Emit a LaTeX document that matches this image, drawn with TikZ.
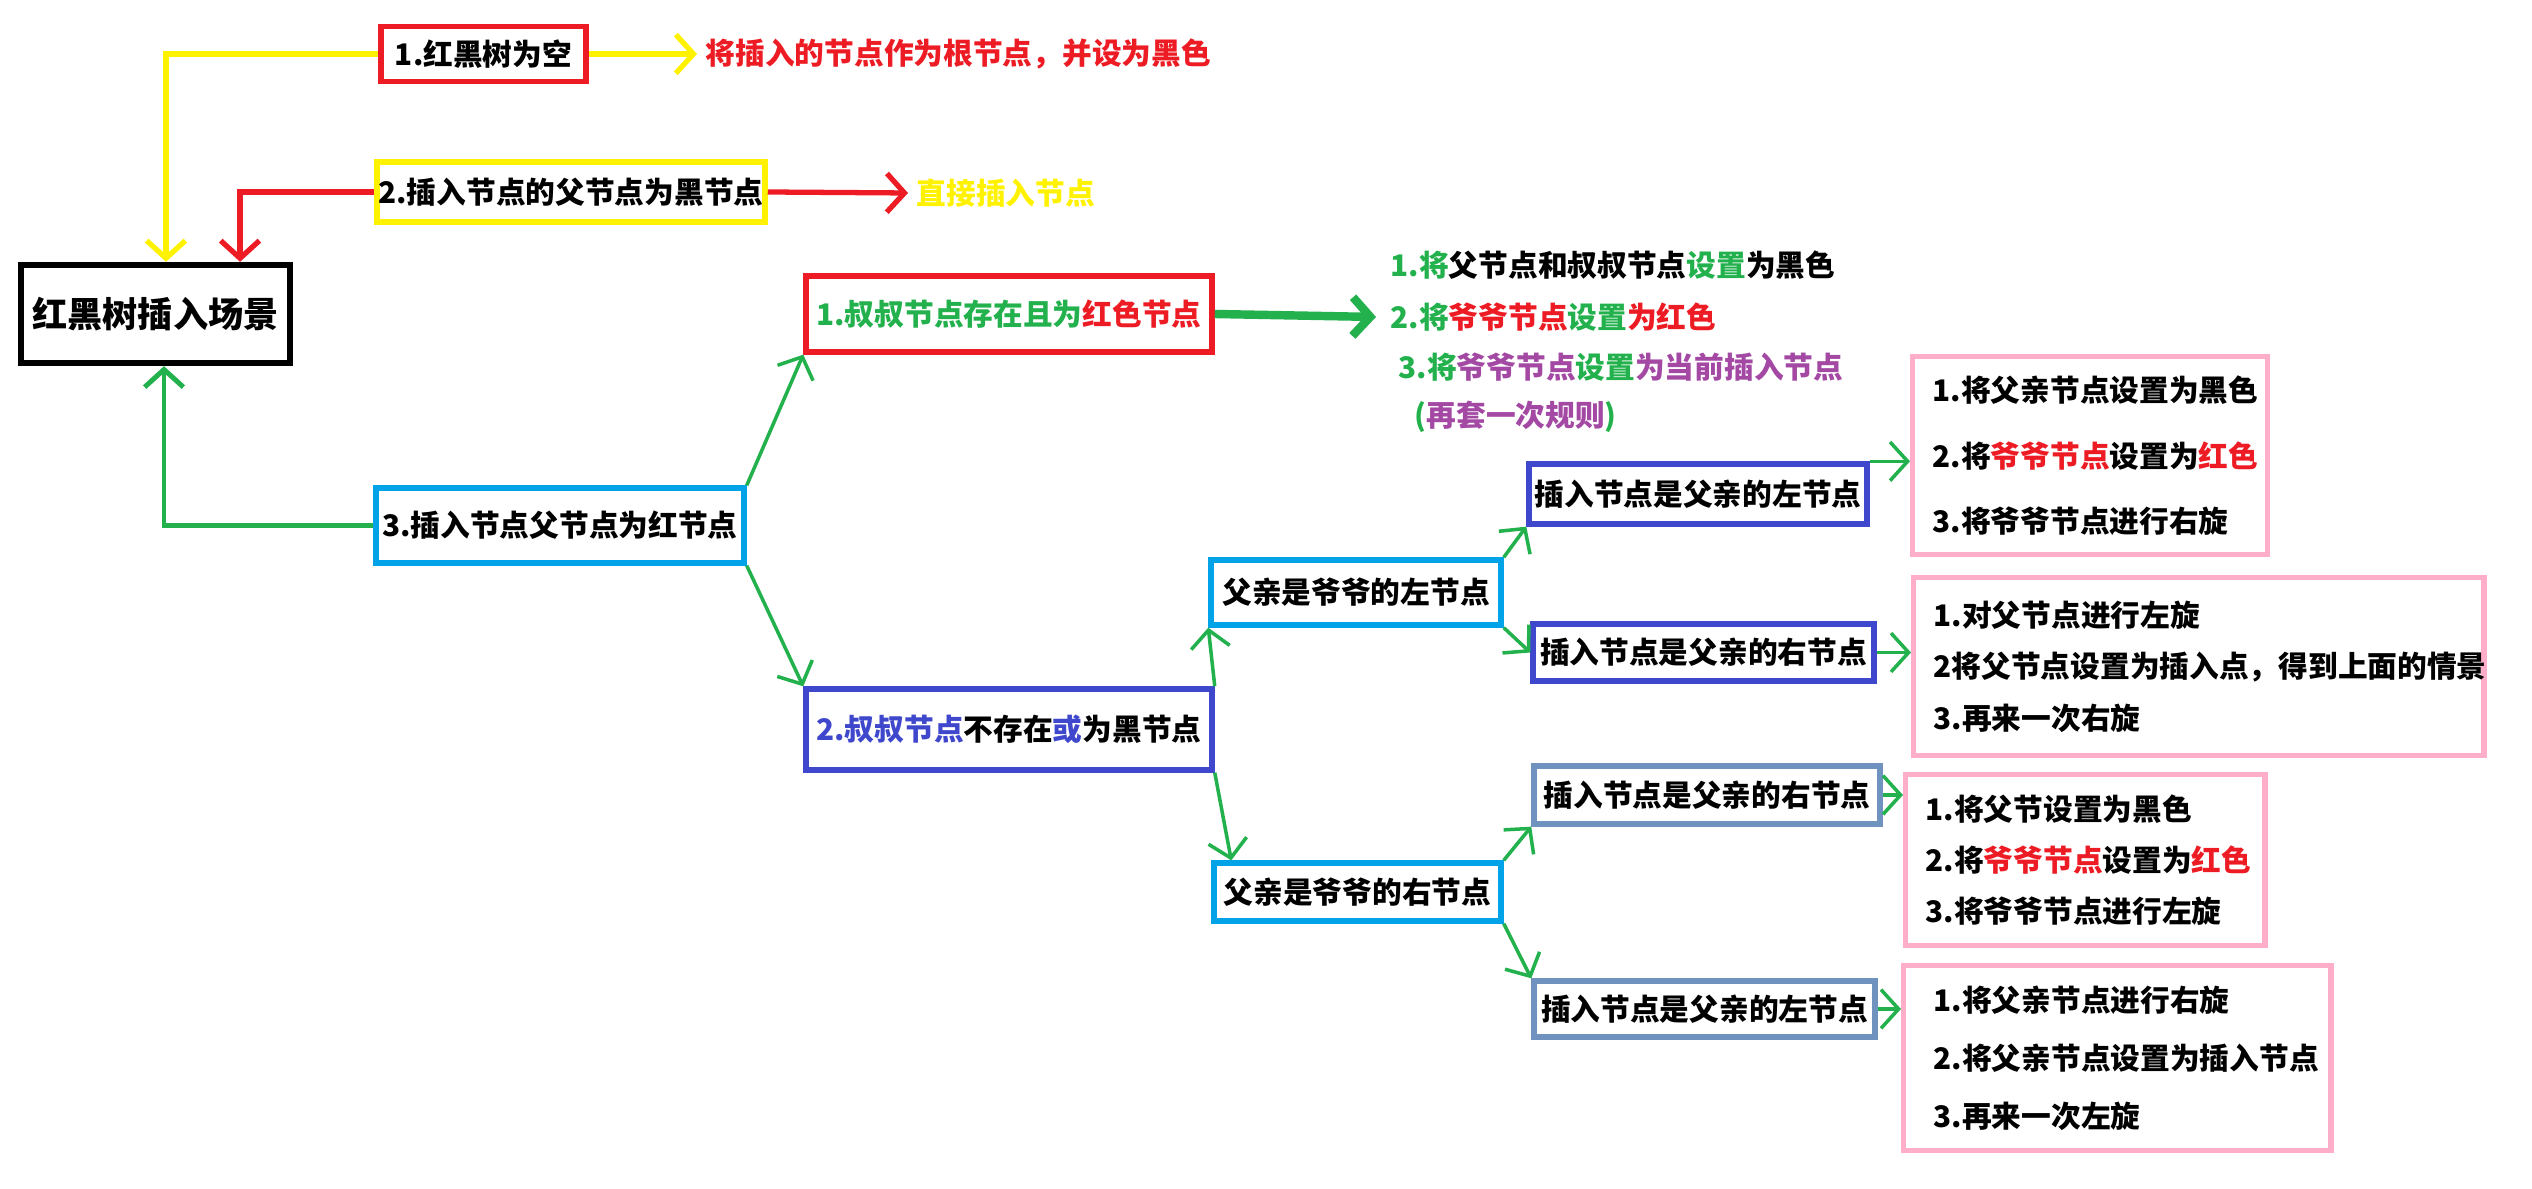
\documentclass[tikz,border=0pt]{standalone}
\usepackage{fontspec}
\setmainfont{Noto Sans CJK SC}
\usepackage{xcolor}
\usepackage{tikz}
\usetikzlibrary{arrows.meta}

\definecolor{pred}{HTML}{ED1C24}
\definecolor{pyellow}{HTML}{FFF200}
\definecolor{pgreen}{HTML}{22B14C}
\definecolor{pcyan}{HTML}{00A2E8}
\definecolor{pindigo}{HTML}{3F48CC}
\definecolor{psteel}{HTML}{7092BE}
\definecolor{ppink}{HTML}{FFAEC9}
\definecolor{ppurple}{HTML}{A349A4}

\tikzset{
  box/.style={draw, line width=1.5pt, inner sep=0pt, font=\fontsize{8.45}{10}\selectfont\bfseries},
  note/.style={anchor=west, inner sep=0pt, font=\fontsize{8.45}{10}\selectfont\bfseries},
  todo/.style={draw=ppink, line width=1.5pt, anchor=north west, align=left, inner xsep=0.2cm, inner ysep=0pt},
  link/.style={#1, line width=1pt, -{Straight Barb[length=5pt,width=11pt]}},
}

\begin{document}
\begin{tikzpicture}[x=0.01cm, y=-0.01cm]
  \useasboundingbox (0,0) rectangle (2532,1189);

  % left part
  \node[box, line width=1.8pt, minimum width=2.69cm, minimum height=0.98cm, font=\fontsize{10}{12}\selectfont\bfseries] (scene) at (155.5,314) {红黑树插入场景};
  \node[box, draw=pred, minimum width=2.05cm, minimum height=0.55cm] (empty) at (483.5,54) {1.红黑树为空};
  \node[box, draw=pyellow, minimum width=3.88cm, minimum height=0.6cm] (blackparent) at (571,192) {2.插入节点的父节点为黑节点};
  \node[box, draw=pcyan, minimum width=3.68cm, minimum height=0.75cm] (redparent) at (560,525.5) {3.插入节点父节点为红节点};
  \node[note, pred] (rootblack) at (705,54) {将插入的节点作为根节点，并设为黑色};
  \node[note, pyellow] (direct) at (916,193) {直接插入节点};

  \draw[link=pyellow, line width=1.5pt] (empty.east) -- ([xshift=-0.08cm]rootblack.west);
  \draw[link=pyellow, line width=1.5pt] (empty.west) -| ([xshift=0.105cm]scene.north);
  \draw[link=pred, line width=1.5pt] (blackparent.east) -- ([xshift=-0.08cm]direct.west);
  \draw[link=pred, line width=1.5pt] (blackparent.west) -| ([xshift=0.845cm]scene.north);
  \draw[link=pgreen, line width=1.4pt] (redparent.west) -| ([xshift=0.085cm]scene.south);

  % uncle red / uncle black
  \node[box, draw=pred, minimum width=4.06cm, minimum height=0.76cm] (redunc) at (1009,314) {{\color{pgreen}1.叔叔节点存在且为}{\color{pred}红色节点}};
  \node[box, draw=pindigo, minimum width=4.06cm, minimum height=0.81cm] (blackunc) at (1009,729.5) {\raisebox{1.2pt}{{\color{pindigo}2.叔叔节点}不存在{\color{pindigo}或}为黑节点}};
  \draw[link=pgreen] (redparent.north east) -- (redunc.south west);
  \draw[link=pgreen] (redparent.south east) -- (blackunc.north west);

  \node[note] (unc1) at (1390,265) {{\color{pgreen}1.将}父节点和叔叔节点{\color{pgreen}设置}为黑色};
  \node[note] (unc2) at (1390,317) {{\color{pgreen}2.将}{\color{pred}爷爷节点}{\color{pgreen}设置}{\color{pred}为红色}};
  \node[note] (unc3) at (1398,367) {{\color{pgreen}3.将}{\color{ppurple}爷爷节点}{\color{pgreen}设置}{\color{ppurple}为当前插入节点}};
  \node[note] (unc4) at (1414,417) {{\color{pgreen}(}{\color{ppurple}再套一次规则}{\color{pgreen})}};
  \draw[link=pgreen, line width=2.4pt] (redunc.east) -- ([xshift=-0.14cm]unc2.west);

  % parent left / right
  \node[box, draw=pcyan, minimum width=2.90cm, minimum height=0.65cm] (leftparent) at (1356,592.5) {父亲是爷爷的左节点};
  \node[box, draw=pcyan, minimum width=2.87cm, minimum height=0.58cm] (rightparent) at (1357.5,892) {父亲是爷爷的右节点};
  \draw[link=pgreen] (blackunc.north east) -- (leftparent.south west);
  \draw[link=pgreen] (blackunc.south east) -- ([xshift=0.2cm]rightparent.north west);

  \node[box, draw=pindigo, minimum width=3.38cm, minimum height=0.60cm] (ll) at (1698,494) {插入节点是父亲的左节点};
  \node[box, draw=pindigo, minimum width=3.41cm, minimum height=0.57cm] (lr) at (1703.5,652.5) {插入节点是父亲的右节点};
  \node[box, draw=psteel, minimum width=3.46cm, minimum height=0.58cm] (rr) at (1707,795) {插入节点是父亲的右节点};
  \node[box, draw=psteel, minimum width=3.41cm, minimum height=0.56cm] (rl) at (1704.5,1009) {插入节点是父亲的左节点};
  \draw[link=pgreen] (leftparent.north east) -- (ll.south west);
  \draw[link=pgreen] (leftparent.south east) -- (lr.west);
  \draw[link=pgreen] (rightparent.north east) -- (rr.south west);
  \draw[link=pgreen] (rightparent.south east) -- (rl.north west);

  % what to do
  \node[todo, text width=3.15cm, minimum height=1.98cm, font=\fontsize{8.45}{18.5}\selectfont\bfseries] (p1) at (1910,354)
    {1.将父亲节点设置为黑色\\2.将{\color{pred}爷爷节点}设置为{\color{pred}红色}\\3.将爷爷节点进行右旋};
  \node[todo, text width=5.30cm, minimum height=1.78cm, font=\fontsize{8.45}{14.6}\selectfont\bfseries] (p2) at (1911,575)
    {1.对父节点进行左旋\\2将父节点设置为插入点，得到上面的情景\\3.再来一次右旋};
  \node[todo, text width=3.19cm, minimum height=1.71cm, font=\fontsize{8.45}{14.6}\selectfont\bfseries] (p3) at (1903,772)
    {1.将父节设置为黑色\\2.将{\color{pred}爷爷节点}设置为{\color{pred}红色}\\3.将爷爷节点进行左旋};
  \node[todo, inner xsep=0.3cm, text width=3.67cm, minimum height=1.85cm, font=\fontsize{8.45}{16.6}\selectfont\bfseries] (p4) at (1901,963)
    {1.将父亲节点进行右旋\\2.将父亲节点设置为插入节点\\3.再来一次左旋};
  \draw[link=pgreen] (ll.north east) -- (ll.north east -| p1.west);
  \draw[link=pgreen] (lr.east) -- (lr.east -| p2.west);
  \draw[link=pgreen] (rr.east) -- (rr.east -| p3.west);
  \draw[link=pgreen] (rl.east) -- (rl.east -| p4.west);
\end{tikzpicture}
\end{document}
